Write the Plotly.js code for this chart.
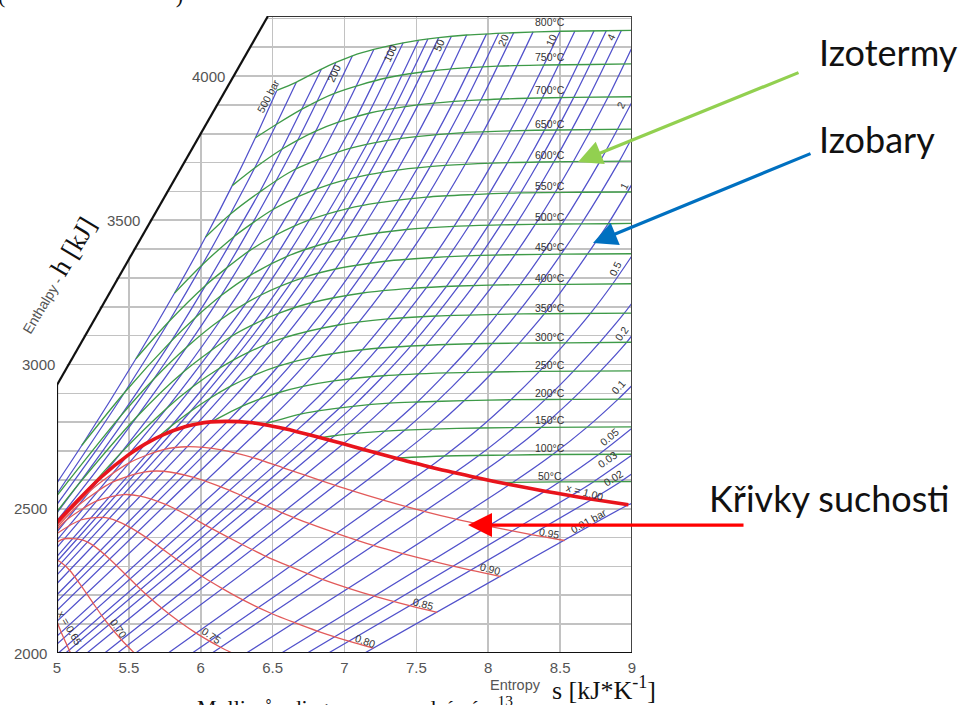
<!DOCTYPE html>
<html><head><meta charset="utf-8">
<script src="https://cdn.plot.ly/plotly-3.0.1.min.js"></script>
<style>html,body{margin:0;padding:0;background:#fff;overflow:hidden}#chart{width:970px;height:705px}</style>
</head><body><div id="chart"></div>
<script>
// ---------------- DATA (s in kJ/(kg K), h in kJ/kg) ----------------
const xTicks = [5, 5.5, 6, 6.5, 7, 7.5, 8, 8.5, 9];
const xTickText = ['5', '5.5', '6', '6.5', '7', '7.5', '8', '8.5', '9'];
const yTickValues = [2000, 2500, 3000, 3500, 4000];

// isobars (bar)
const isobarLabels = ['0.01','0.02','0.03','0.05','0.1','0.2','0.3','0.5','1','1.5','2','3','4','5','6','8','10','15','20','25','30','40','50','60','70','80','100','120','150','200','250','300','400','500'];
const isobarS = [
 [7.141, 8.975, 9.0],
 [6.889, 8.723, 8.918, 9.0],
 [6.742, 8.576, 8.731, 9.0],
 [6.562, 8.395, 8.495, 8.768, 9.0],
 [6.318, 8.149, 8.448, 8.688, 8.904, 9.0],
 [6.079, 7.907, 8.128, 8.368, 8.584, 8.780, 8.961, 9.0],
 [5.941, 7.767, 7.941, 8.181, 8.397, 8.593, 8.774, 8.945, 9.0],
 [5.774, 7.593, 7.695, 7.940, 8.158, 8.356, 8.538, 8.711, 8.865, 9.0],
 [5.548, 7.359, 7.613, 7.834, 8.033, 8.216, 8.391, 8.543, 8.690, 8.834, 9.0],
 [5.421, 7.223, 7.420, 7.645, 7.845, 8.028, 8.356, 8.647, 8.911, 9.0],
 [5.332, 7.127, 7.280, 7.507, 7.708, 7.894, 8.222, 8.513, 8.777, 9.0],
 [5.209, 6.992, 7.079, 7.312, 7.517, 7.703, 8.034, 8.327, 8.591, 8.834, 9.0],
 [5.125, 6.896, 7.171, 7.379, 7.566, 7.899, 8.192, 8.456, 8.699, 8.925],
 [5.061, 6.821, 7.059, 7.271, 7.460, 7.794, 8.087, 8.352, 8.595, 8.821],
 [5.010, 6.760, 6.967, 7.182, 7.372, 7.708, 8.002, 8.267, 8.510, 8.736],
 [5.0, 6.662, 6.816, 7.038, 7.233, 7.571, 7.867, 8.133, 8.376, 8.603],
 [5.0, 6.585, 6.694, 6.925, 7.123, 7.465, 7.762, 8.029, 8.273, 8.500],
 [5.0, 6.445, 6.711, 6.919, 7.270, 7.571, 7.840, 8.085, 8.312],
 [5.0, 6.340, 6.545, 6.766, 7.127, 7.432, 7.702, 7.949, 8.177],
 [5.0, 6.256, 6.409, 6.644, 7.015, 7.324, 7.596, 7.845, 8.073],
 [5.0, 6.186, 6.289, 6.539, 6.921, 7.234, 7.509, 7.759, 7.988],
 [5.0, 6.070, 6.230, 6.362, 6.769, 7.090, 7.369, 7.622, 7.850],
 [5.0, 5.973, 6.208, 6.449, 6.646, 6.976, 7.259, 7.512, 7.743],
 [5.0, 5.890, 6.067, 6.334, 6.541, 6.880, 7.168, 7.423, 7.655],
 [5.0, 5.814, 5.930, 6.228, 6.448, 6.798, 7.089, 7.346, 7.580],
 [5.0, 5.745, 6.130, 6.364, 6.724, 7.020, 7.281, 7.516],
 [5.0, 5.615, 5.757, 5.944, 6.212, 6.419, 6.597, 6.903, 7.169, 7.408],
 [5.0, 5.492, 5.760, 6.076, 6.310, 6.489, 6.806, 7.084, 7.327],
 [5.0, 5.310, 5.442, 5.881, 6.140, 6.344, 6.677, 6.957, 7.204],
 [5.0, 5.280, 5.554, 5.902, 6.140, 6.505, 6.800, 7.055],
 [5.0, 5.142, 5.470, 5.674, 5.962, 6.181, 6.362, 6.675, 6.940],
 [5.0, 5.442, 5.795, 6.035, 6.233, 6.410, 6.564, 6.840],
 [5.0, 5.470, 5.779, 6.011, 6.205, 6.375, 6.525, 6.666],
 [5.0, 5.173, 5.549, 5.818, 6.034, 6.219, 6.380, 6.529]
];
const isobarH = [
 [2000, 2514, 2519],
 [2000, 2533, 2593, 2621],
 [2000, 2545, 2593, 2686],
 [2000, 2561, 2593, 2688, 2779],
 [2000, 2584, 2688, 2783, 2880, 2927],
 [2000, 2609, 2687, 2782, 2879, 2977, 3076, 3101],
 [2000, 2625, 2687, 2782, 2879, 2977, 3076, 3177, 3213],
 [2000, 2645, 2683, 2780, 2878, 2976, 3075, 3177, 3279, 3377],
 [2000, 2675, 2776, 2875, 2974, 3074, 3176, 3278, 3383, 3488, 3625],
 [2000, 2693, 2773, 2873, 2972, 3073, 3277, 3487, 3704, 3786],
 [2000, 2706, 2769, 2870, 2971, 3072, 3277, 3487, 3704, 3910],
 [2000, 2725, 2761, 2866, 2968, 3069, 3275, 3486, 3703, 3927, 4099],
 [2000, 2738, 2861, 2964, 3067, 3273, 3485, 3702, 3926, 4157],
 [2000, 2748, 2855, 2961, 3064, 3272, 3484, 3702, 3926, 4157],
 [2000, 2757, 2850, 2957, 3062, 3270, 3483, 3701, 3925, 4157],
 [2031, 2769, 2839, 2950, 3057, 3267, 3481, 3699, 3924, 4156],
 [2059, 2778, 2828, 2943, 3051, 3264, 3479, 3698, 3923, 4155],
 [2110, 2791, 2924, 3038, 3256, 3473, 3694, 3920, 4153],
 [2148, 2799, 2903, 3024, 3248, 3468, 3690, 3917, 4150],
 [2178, 2802, 2880, 3009, 3239, 3462, 3686, 3915, 4148],
 [2202, 2803, 2856, 2994, 3231, 3457, 3682, 3912, 4146],
 [2241, 2801, 2886, 2961, 3214, 3445, 3674, 3906, 4142],
 [2271, 2794, 2925, 3068, 3196, 3434, 3667, 3900, 4137],
 [2296, 2784, 2884, 3043, 3177, 3422, 3658, 3894, 4133],
 [2317, 2772, 2838, 3016, 3158, 3410, 3650, 3888, 4128],
 [2335, 2758, 2987, 3138, 3398, 3642, 3882, 4124],
 [2366, 2725, 2809, 2923, 3097, 3241, 3374, 3625, 3871, 4115],
 [2391, 2685, 2846, 3051, 3209, 3348, 3608, 3858, 4107],
 [2420, 2611, 2692, 2975, 3156, 3309, 3582, 3840, 4092],
 [2458, 2636, 2818, 3060, 3238, 3538, 3809, 4070],
 [2486, 2580, 2806, 2950, 3162, 3335, 3491, 3778, 4047],
 [2515, 2821, 3081, 3275, 3444, 3598, 3746, 4024],
 [2552, 2903, 3149, 3346, 3521, 3681, 3832, 3979],
 [2590, 2720, 3020, 3248, 3442, 3620, 3786, 3950]
];

// isotherms (deg C)
const isothermLabels = ['50','100','150','200','250','300','350','400','450','500','550','600','650','700','750','800'];
const isothermS = [
 [8.075, 8.495, 9.0],
 [7.355, 7.695, 8.128, 8.448, 9.0],
 [6.837, 6.930, 7.079, 7.280, 7.613, 7.940, 8.368, 9.0],
 [6.431, 6.694, 6.816, 7.059, 7.312, 7.507, 7.834, 8.158, 8.584, 9.0],
 [6.072, 6.289, 6.409, 6.545, 6.711, 6.925, 7.271, 7.708, 8.033, 8.356, 9.0],
 [5.704, 5.791, 5.930, 6.067, 6.208, 6.362, 6.539, 6.766, 7.123, 7.460, 7.894, 8.216, 8.538, 9.0],
 [5.211, 5.442, 5.760, 5.944, 6.130, 6.334, 6.584, 6.958, 7.301, 7.634, 8.070, 8.390, 9.0],
 [5.0, 5.142, 5.554, 5.881, 6.212, 6.364, 6.541, 6.769, 7.127, 7.465, 7.794, 8.222, 8.543, 9.0],
 [5.0, 5.442, 5.674, 5.902, 6.140, 6.419, 6.719, 6.937, 7.284, 7.620, 7.945, 8.370, 8.690, 9.0],
 [5.173, 5.470, 5.795, 5.962, 6.140, 6.344, 6.597, 6.880, 7.090, 7.432, 7.762, 8.087, 8.513, 8.834, 9.0],
 [5.549, 5.779, 6.035, 6.181, 6.335, 6.520, 6.756, 7.029, 7.231, 7.569, 7.894, 8.217, 8.640, 9.0],
 [5.818, 6.011, 6.233, 6.362, 6.505, 6.677, 6.903, 7.168, 7.369, 7.702, 8.029, 8.352, 8.777, 9.0],
 [6.034, 6.205, 6.410, 6.650, 7.030, 7.290, 7.500, 7.830, 8.150, 8.480, 9.0],
 [6.219, 6.375, 6.564, 6.675, 6.800, 6.957, 7.169, 7.423, 7.622, 7.949, 8.273, 8.595, 9.0],
 [6.380, 6.525, 6.707, 6.930, 7.290, 7.630, 8.065, 8.390, 8.710, 9.0],
 [6.529, 6.666, 6.840, 6.940, 7.055, 7.204, 7.408, 7.655, 7.850, 8.177, 8.500, 8.821, 9.0]
];
const isothermH = [
 [2591, 2593, 2594],
 [2676, 2683, 2686, 2688, 2689],
 [2746, 2753, 2761, 2769, 2776, 2780, 2782, 2784],
 [2792, 2828, 2839, 2855, 2866, 2870, 2875, 2878, 2879, 2880],
 [2801, 2856, 2880, 2903, 2924, 2943, 2961, 2971, 2974, 2976, 2978],
 [2749, 2785, 2838, 2884, 2925, 2961, 2994, 3024, 3051, 3064, 3072, 3074, 3075, 3077],
 [2564, 2692, 2847, 2923, 2987, 3043, 3093, 3137, 3158, 3168, 3174, 3176, 3178],
 [2490, 2580, 2818, 2975, 3097, 3138, 3177, 3214, 3248, 3264, 3272, 3277, 3278, 3280],
 [2546, 2821, 2950, 3060, 3156, 3241, 3302, 3331, 3358, 3371, 3378, 3382, 3383, 3384],
 [2720, 2903, 3081, 3162, 3238, 3309, 3374, 3422, 3445, 3468, 3479, 3484, 3487, 3488, 3489],
 [3020, 3149, 3275, 3335, 3393, 3448, 3501, 3541, 3560, 3580, 3589, 3595, 3597, 3598],
 [3248, 3346, 3444, 3491, 3538, 3582, 3625, 3658, 3674, 3690, 3698, 3702, 3704, 3705],
 [3442, 3521, 3598, 3675, 3748, 3776, 3790, 3804, 3810, 3813, 3816],
 [3620, 3681, 3746, 3778, 3809, 3840, 3871, 3894, 3906, 3917, 3923, 3926, 3928],
 [3786, 3832, 3886, 3940, 3993, 4019, 4034, 4038, 4040, 4042],
 [3950, 3979, 4024, 4047, 4070, 4092, 4115, 4133, 4142, 4150, 4155, 4157, 4158]
];

// lines of constant dryness fraction x
const qualityLabels = ['0.65','0.70','0.75','0.80','0.85','0.90','0.95'];
const qualityS = [
 [5.0, 5.029, 5.085, 5.100],
 [5.0, 5.031, 5.088, 5.171, 5.251, 5.333, 5.448, 5.542],
 [5.0, 5.051, 5.174, 5.251, 5.366, 5.473, 5.581, 5.728, 5.845, 5.968, 6.138, 6.274],
 [5.0, 5.164, 5.318, 5.415, 5.561, 5.696, 5.829, 6.008, 6.148, 6.293, 6.492, 6.649, 6.811, 7.030, 7.201],
 [5.0, 5.066, 5.277, 5.461, 5.579, 5.755, 5.918, 6.077, 6.288, 6.450, 6.619, 6.846, 7.024, 7.207, 7.453, 7.645],
 [5.0, 5.147, 5.389, 5.604, 5.742, 5.950, 6.140, 6.325, 6.567, 6.753, 6.944, 7.200, 7.399, 7.603, 7.877, 8.088],
 [5.0, 5.228, 5.502, 5.747, 5.906, 6.144, 6.363, 6.573, 6.847, 7.056, 7.269, 7.554, 7.774, 7.999, 8.300, 8.531]
];
const qualityH = [
 [2108, 2072, 2010, 1993],
 [2322, 2313, 2287, 2231, 2173, 2115, 2046, 1998],
 [2384, 2396, 2392, 2373, 2326, 2274, 2221, 2156, 2111, 2069, 2020, 1986],
 [2414, 2461, 2470, 2458, 2420, 2374, 2326, 2266, 2224, 2184, 2137, 2106, 2076, 2041, 2017],
 [2428, 2461, 2527, 2549, 2544, 2515, 2475, 2431, 2376, 2336, 2300, 2255, 2225, 2197, 2164, 2141],
 [2436, 2511, 2593, 2627, 2630, 2609, 2576, 2537, 2486, 2449, 2415, 2373, 2345, 2319, 2287, 2265],
 [2443, 2561, 2659, 2706, 2715, 2704, 2677, 2642, 2596, 2562, 2530, 2491, 2464, 2440, 2410, 2390]
];

// saturated vapour line x = 1.00
const satS = [5.0, 5.105, 5.310, 5.492, 5.615, 5.745, 5.890, 5.973, 6.070, 6.186, 6.340, 6.445, 6.585, 6.662, 6.821, 6.992, 7.127, 7.359, 7.593, 7.767, 7.907, 8.149, 8.395, 8.576, 8.723, 8.975];
const satH = [2453, 2509, 2611, 2685, 2725, 2758, 2784, 2794, 2801, 2803, 2799, 2791, 2777, 2768, 2748, 2725, 2706, 2675, 2645, 2625, 2609, 2584, 2561, 2545, 2533, 2514];

// ---------------- STYLE / LAYOUT ----------------
const C_BAR = '#5151cb', C_TEMP = '#3e9a48', C_X = '#e25a5a', C_SAT = '#e8141c';
const traces = [];
isobarS.forEach((s, i) => traces.push({x: s, y: isobarH[i], mode: 'lines', hoverinfo: 'skip', showlegend: false,
  line: {color: C_BAR, width: 1.25, shape: 'spline', smoothing: 0.8}}));
isothermS.forEach((s, i) => traces.push({x: s, y: isothermH[i], mode: 'lines', hoverinfo: 'skip', showlegend: false,
  line: {color: C_TEMP, width: 1.35, shape: 'spline', smoothing: 0.8}}));
qualityS.forEach((s, i) => traces.push({x: s, y: qualityH[i], mode: 'lines', hoverinfo: 'skip', showlegend: false,
  line: {color: C_X, width: 1.3, shape: 'spline', smoothing: 0.8}}));
traces.push({x: satS, y: satH, mode: 'lines', hoverinfo: 'skip', showlegend: false,
  line: {color: C_SAT, width: 3.6, shape: 'spline', smoothing: 0.8}});

const SMALL = {family: 'Liberation Sans, Arial, sans-serif', size: 10.5, color: '#333'};
const ann = [];
// y tick labels placed along the stepped left border
const yTickPos = [-0.014, -0.014, 0.0, 0.148, 0.296];
yTickValues.forEach((v, i) => ann.push({xref: 'paper', yref: 'y', x: yTickPos[i], y: v, text: String(v), showarrow: false,
  xanchor: 'right', yanchor: 'middle', font: {family: 'Liberation Sans, Arial, sans-serif', size: 15, color: '#555'}}));
// isotherm labels
const isothermLabelH = [2614, 2711, 2808, 2901, 2998, 3095, 3196, 3300, 3407, 3511, 3619, 3726, 3834, 3951, 4066, 4187];
isothermLabels.forEach((t, i) => ann.push({x: 8.43, y: isothermLabelH[i], text: t + '°C', showarrow: false, font: SMALL}));
// isobar labels
const isobarLabelPos = {
 '500': [6.468, 3931, -62, '500 bar'], '200': [6.927, 4010, -65, '200'], '100': [7.317, 4080, -65, '100'],
 '50': [7.657, 4107, -65, '50'], '20': [8.103, 4125, -65, '20'], '10': [8.437, 4125, -65, '10'], '4': [8.854, 4135, -65, '4'],
 '2': [8.923, 3899, -63, '2'], '1': [8.944, 3619, -63, '1'], '0.5': [8.882, 3331, -63, '0.5'], '0.2': [8.930, 3109, -55, '0.2'],
 '0.1': [8.903, 2922, -48, '0.1'], '0.05': [8.840, 2749, -40, '0.05'], '0.03': [8.833, 2672, -35, '0.03'],
 '0.02': [8.868, 2607, -32, '0.02'], '0.01': [8.694, 2458, -29, '0.01 bar']};
isobarLabels.forEach(p => { const q = isobarLabelPos[p]; if (q) ann.push({x: q[0], y: q[1], text: q[3], textangle: q[2], showarrow: false, font: SMALL}); });
// dryness labels
const qualityLabelPos = [[5.090, 2087, 60, 'x = 0.65'], [5.431, 2083, 55, '0.70'], [6.078, 2059, 35, '0.75'], [7.143, 2042, 20, '0.80'],
 [7.553, 2170, 15, '0.85'], [8.019, 2291, 15, '0.90'], [8.423, 2416, 10, '0.95'], [8.673, 2558, 15, 'x = 1.00']];
qualityLabelPos.forEach(q => ann.push({x: q[0], y: q[1], text: q[3], textangle: q[2], showarrow: false, font: SMALL}));

// axis titles
ann.push({xref: 'paper', yref: 'paper', x: -0.002, y: 0.594, textangle: -59, showarrow: false, xanchor: 'center', yanchor: 'middle',
  text: '<span style="font-family:Liberation Sans,Arial;font-size:14px;color:#555">Enthalpy - </span><span style="font-family:Liberation Serif,Times New Roman,serif;font-size:27px;color:#111">h [kJ]</span>'});
ann.push({xref: 'paper', yref: 'paper', x: 0.798, y: -0.051, showarrow: false, xanchor: 'center', yanchor: 'middle',
  text: 'Entropy', font: {family: 'Liberation Sans, Arial, sans-serif', size: 14.5, color: '#555'}});
ann.push({xref: 'paper', yref: 'paper', x: 0.951, y: -0.055, showarrow: false, xanchor: 'center', yanchor: 'middle',
  text: 's [kJ*K<sup>-1</sup>]', font: {family: 'Liberation Serif, Times New Roman, serif', size: 26, color: '#111'}});

// side explanations with arrows
const BIG = {family: 'Lato, Open Sans, sans-serif', size: 36, color: '#111'};
ann.push({xref: 'paper', yref: 'paper', x: 1.322, y: 0.9435, text: 'Izotermy', showarrow: false, xanchor: 'left', yanchor: 'middle', font: BIG});
ann.push({xref: 'paper', yref: 'paper', x: 1.322, y: 0.807, text: 'Izobary', showarrow: false, xanchor: 'left', yanchor: 'middle', font: BIG});
ann.push({xref: 'paper', yref: 'paper', x: 1.131, y: 0.2433, text: 'Křivky suchosti', showarrow: false, xanchor: 'left', yanchor: 'middle', font: BIG});
ann.push({xref: 'paper', yref: 'paper', x: 0.9061, y: 0.7708, ax: 222, ay: -90, text: '', showarrow: true, arrowhead: 2, arrowsize: 1.5, arrowwidth: 3.2, arrowcolor: '#92d050'});
ann.push({xref: 'paper', yref: 'paper', x: 0.9322, y: 0.6436, ax: 219, ay: -90, text: '', showarrow: true, arrowhead: 2, arrowsize: 1.5, arrowwidth: 3.2, arrowcolor: '#0070c0'});
ann.push({xref: 'paper', yref: 'paper', x: 0.7148, y: 0.2009, ax: 277, ay: 0, text: '', showarrow: true, arrowhead: 2, arrowsize: 1.5, arrowwidth: 3.2, arrowcolor: '#ff0000'});

// cut-off caption lines of the surrounding document
ann.push({xref: 'paper', yref: 'paper', x: 0.518, y: -0.0575, xanchor: 'center', yanchor: 'top', showarrow: false,
  text: 'Mollierův diagram pro vodní páru<sup>13</sup>', font: {family: 'Liberation Serif, Times New Roman, serif', size: 22, color: '#111'}});
ann.push({xref: 'paper', yref: 'paper', x: 0.059, y: 1.0094, xanchor: 'center', yanchor: 'bottom', showarrow: false,
  text: '(' + '&nbsp;'.repeat(31) + ')', font: {family: 'Liberation Serif, Times New Roman, serif', size: 22, color: '#111'}});

const S_TOP = 6.468, H_TOP = 4208, H_CORNER = 2929;
const shapes = [
 {type: 'path', layer: 'between', xref: 'x', yref: 'y', path: `M 4.985 ${H_CORNER} L ${S_TOP} ${H_TOP + 4} L 4.985 ${H_TOP + 4} Z`, fillcolor: '#ffffff', line: {width: 0}},
 {type: 'line', layer: 'above', x0: 5, y0: 2000, x1: 5, y1: H_CORNER, line: {color: '#111', width: 2.2}},
 {type: 'line', layer: 'above', x0: 5, y0: H_CORNER, x1: S_TOP, y1: H_TOP, line: {color: '#111', width: 2.2}},
 {type: 'line', layer: 'above', x0: S_TOP, y0: H_TOP, x1: 9, y1: H_TOP, line: {color: '#333', width: 2}},
 {type: 'line', layer: 'above', x0: 9, y0: H_TOP, x1: 9, y1: 2000, line: {color: '#444', width: 2}},
 {type: 'line', layer: 'above', x0: 5, y0: 2000, x1: 9, y1: 2000, line: {color: '#111', width: 2.2}}
];

const layout = {
  width: 970, height: 705, margin: {l: 57, r: 338, t: 16, b: 52},
  paper_bgcolor: '#fff', plot_bgcolor: '#fff', showlegend: false,
  xaxis: {range: [5, 9], tickvals: xTicks, ticktext: xTickText, showgrid: true, gridcolor: '#c2c2c2', gridwidth: 1.6,
    zeroline: false, showline: false, ticks: '', ticklabelstandoff: 4, tickfont: {family: 'Liberation Sans, Arial, sans-serif', size: 15, color: '#555'}, fixedrange: true},
  yaxis: {range: [2000, H_TOP], dtick: 100, tick0: 2000, showgrid: true, gridcolor: '#c2c2c2', gridwidth: 1.6, zeroline: false,
    showline: false, ticks: '', showticklabels: false, fixedrange: true},
  annotations: ann, shapes: shapes
};
Plotly.newPlot('chart', traces, layout, {staticPlot: true, displayModeBar: false});
</script></body></html>
